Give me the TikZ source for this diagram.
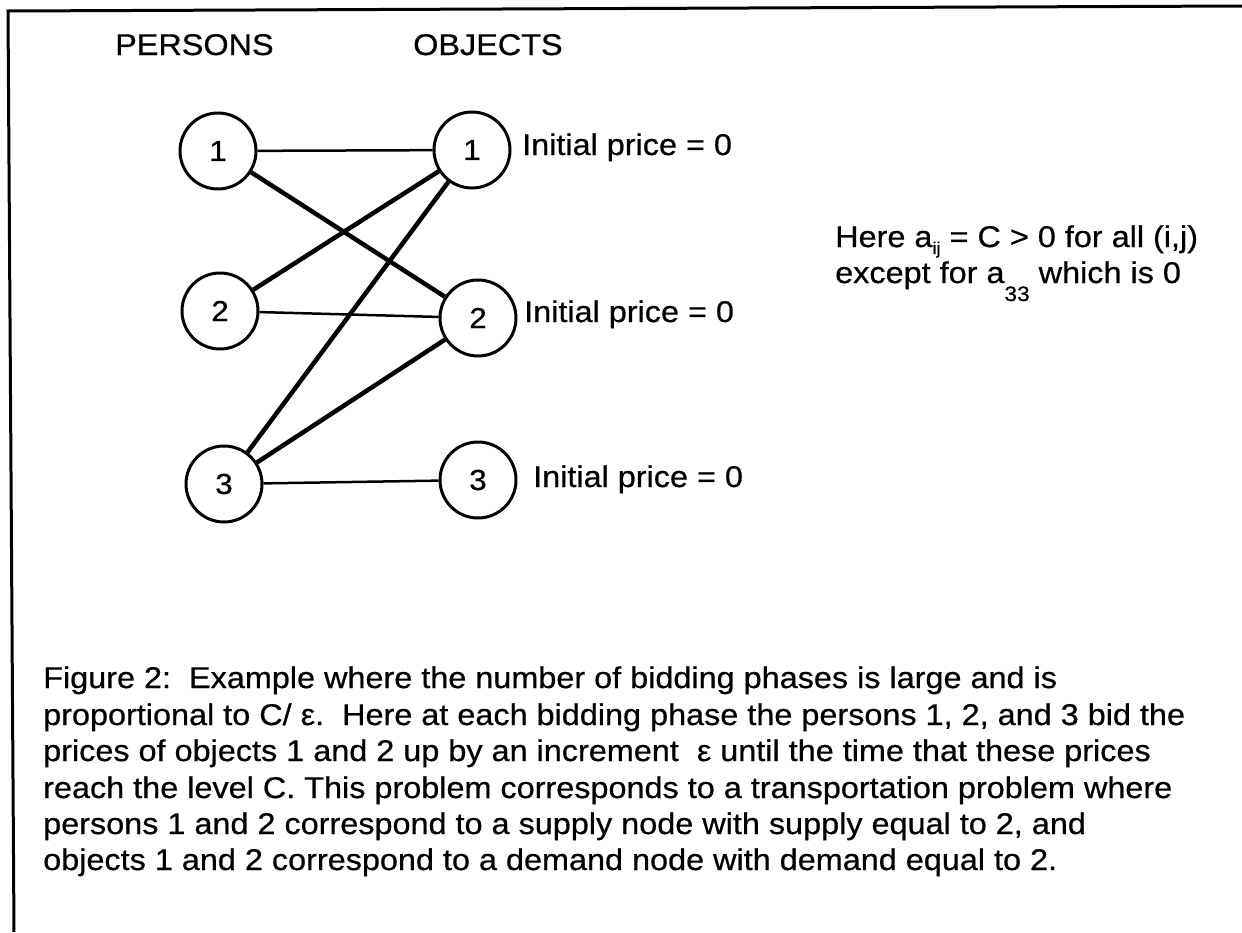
\documentclass[tikz,border=0pt]{standalone}
\usepackage{fontspec}
\setmainfont[FakeStretch=1.08,FakeBold=0.6]{Liberation Sans}
\begin{document}
\begin{tikzpicture}[x=1pt,y=-1pt,
  vertex/.style={circle, draw, line width=3pt, minimum size=76pt, inner sep=0pt,
                 font=\fontsize{29}{30}\selectfont},
  thinedge/.style={line width=2.5pt},
  thickedge/.style={line width=4.5pt},
  txt/.style={anchor=base west, inner sep=0pt, font=\fontsize{30}{36}\selectfont},
  frameline/.style={line width=3pt}]
\useasboundingbox (0,0) rectangle (1242,932);
\fill[white] (0,0) rectangle (1242,932);
% frame
\coordinate (ftl) at (8,11);
\coordinate (ftr) at (1242,6);
\coordinate (fbl) at (14,932);
\draw[frameline] (ftr) -- (ftl) -- (fbl);
% headings
\node[txt] (hp) at (115,55) {PERSONS};
\node[txt] (ho) at (413,55) {OBJECTS};
% nodes
\node[vertex] (p1) at (218,151) {1};
\node[vertex] (p2) at (220,311) {2};
\node[vertex] (p3) at (224,484) {3};
\node[vertex] (o1) at (472,150) {1};
\node[vertex] (o2) at (478,318) {2};
\node[vertex] (o3) at (478,480) {3};
% edges
\draw[thinedge] (p1) -- (o1);
\draw[thickedge] (p1) -- (o2);
\draw[thickedge] (p2) -- (o1);
\draw[thinedge] (p2) -- (o2);
\draw[thickedge] (p3) -- (o1);
\draw[thickedge] (p3) -- (o2);
\draw[thinedge] (p3) -- (o3);
% prices
\node[txt] (ip1) at (522,155) {Initial price = 0};
\node[txt] (ip2) at (524,322) {Initial price = 0};
\node[txt] (ip3) at (533,487) {Initial price = 0};
% remark
\node[txt] (r1) at (835,247) {Here a\raisebox{-7pt}{\fontsize{17}{17}\selectfont ij} = C > 0 for all (i,j)};
\node[txt] (r2) at (835,283) {except for a\raisebox{-18pt}{\fontsize{21}{21}\selectfont 33} which is 0};
% caption
\node[txt] (c1) at (43,688) {Figure 2:\ \ Example where the number of bidding phases is large and is};
\node[txt] (c2) at (43,725) {proportional to C/ ε.\ \ Here at each bidding phase the persons 1, 2, and 3 bid the};
\node[txt] (c3) at (43,761) {prices of objects 1 and 2 up by an increment\ \ ε until the time that these prices};
\node[txt] (c4) at (43,798) {reach the level C. This problem corresponds to a transportation problem where};
\node[txt] (c5) at (43,834) {persons 1 and 2 correspond to a supply node with supply equal to 2, and};
\node[txt] (c6) at (43,870) {objects 1 and 2 correspond to a demand node with demand equal to 2.};
\end{tikzpicture}
\end{document}
